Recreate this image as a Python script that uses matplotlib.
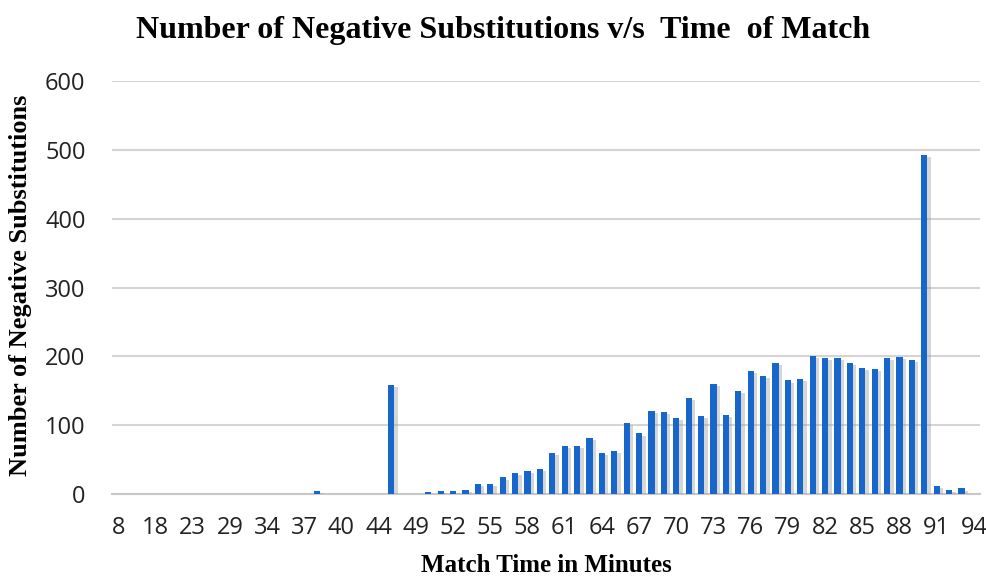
import matplotlib.pyplot as plt
import matplotlib.patheffects as pe
import numpy as np

# match minutes (categories as they appear on the axis)
minutes = [8, 12, 15, 18, 20, 21, 23, 25, 27, 29, 31, 32, 34, 35, 36, 37,
           38, 39, 40, 42, 43, 44, 45, 46] + list(range(49, 95))
# number of negative substitutions per minute
neg_subs = [0, 0, 0, 0, 0, 0, 0, 0, 0, 0, 0, 0, 0, 0, 0, 0,
            4, 0, 0, 0, 0, 0, 158, 0,
            0, 3, 4, 4, 6, 14, 14, 24, 30, 33, 37, 60, 70, 70, 82, 60, 63,
            103, 88, 121, 119, 111, 140, 113, 160, 115, 150, 179, 171, 191,
            165, 167, 201, 197, 197, 191, 183, 181, 197, 199, 195, 493,
            12, 6, 8, 0]

x = np.arange(len(minutes))

fig = plt.figure(figsize=(9.86, 5.79), dpi=100)
ax = fig.add_axes([0.1136, 0.1468, 0.8804, 0.7133])

bars = ax.bar(x, neg_subs, width=0.5, color="#1766cc", zorder=3)
for b in bars:
    b.set_path_effects([pe.SimplePatchShadow(offset=(2.5, -1.5), shadow_rgbFace="#9a9a9a", alpha=0.4),
                        pe.Normal()])

ax.set_xlim(-0.5, len(minutes) - 0.5)
ax.set_ylim(0, 600)
ax.set_yticks(range(0, 601, 100))
ax.set_xticks(x[::3])
ax.set_xticklabels([str(m) for m in minutes[::3]])

ax.grid(axis="y", color="#d4d4d4", linewidth=1.5, zorder=0)
for s in ["top", "right", "left"]:
    ax.spines[s].set_visible(False)
ax.spines["bottom"].set_color("#c8c8c8")
ax.spines["bottom"].set_linewidth(1.5)
ax.tick_params(length=0, labelsize=17, labelcolor="#222222")
for lab in ax.get_xticklabels() + ax.get_yticklabels():
    lab.set_family("Open Sans")
ax.tick_params(axis="x", pad=16)
ax.tick_params(axis="y", pad=19)

ax.set_xlabel("Match Time in Minutes", family="Liberation Serif", fontweight="bold",
              fontsize=18)
ax.set_ylabel("Number of Negative Substitutions", family="Liberation Serif",
              fontweight="bold", fontsize=19)
ax.yaxis.set_label_coords(-0.092, 0.505)
ax.xaxis.set_label_coords(0.5, -0.145)

fig.text(0.51, 0.948, "Number of Negative Substitutions v/s  Time  of Match",
         family="Liberation Serif", fontweight="bold", fontsize=23,
         ha="center", va="center")

fig.savefig("out.png", dpi=100)
